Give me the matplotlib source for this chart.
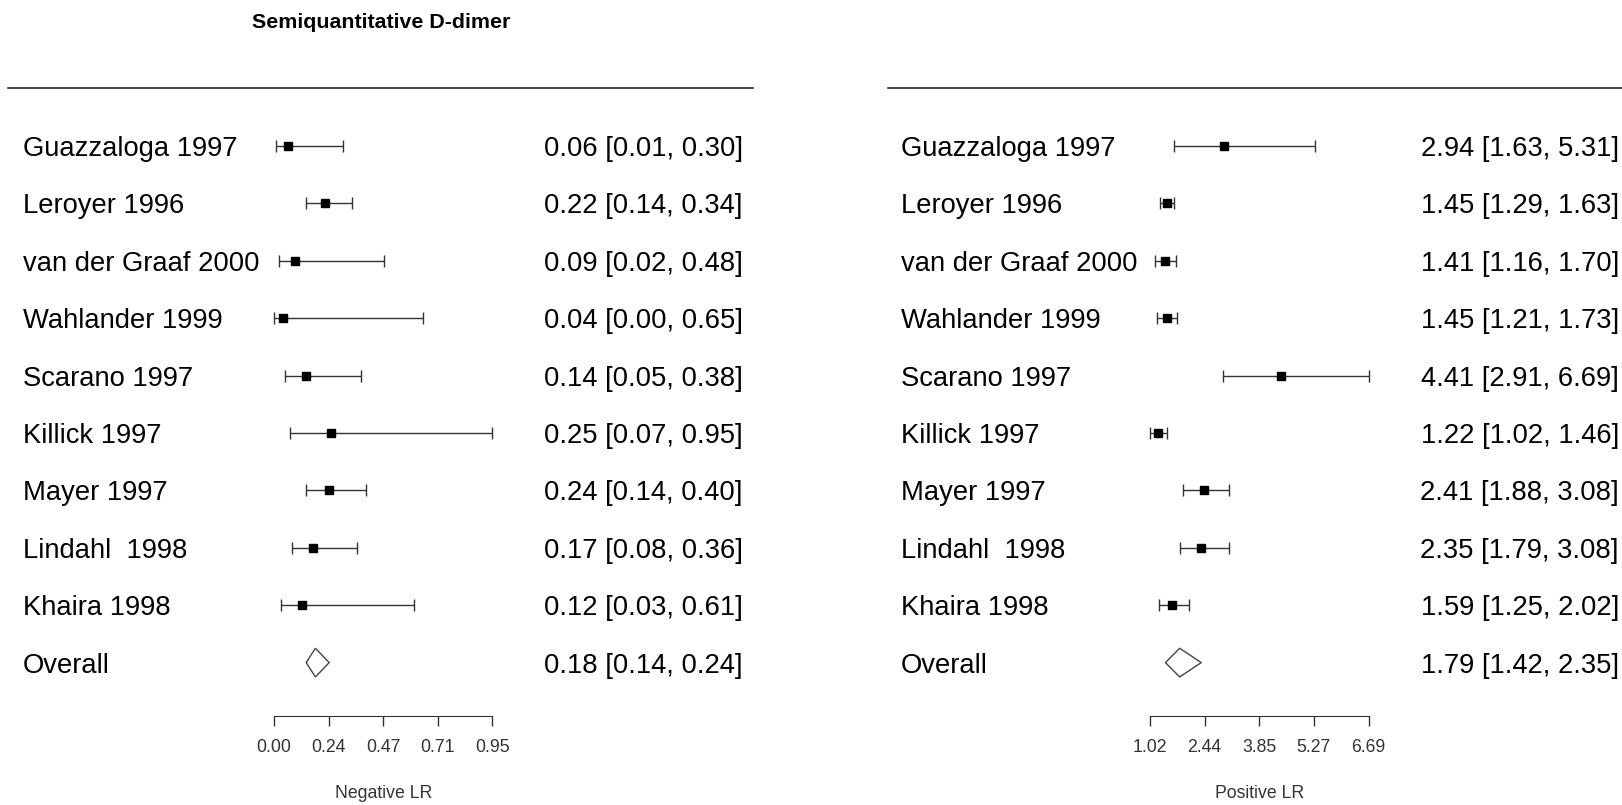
import matplotlib
matplotlib.use("Agg")
import matplotlib.pyplot as plt
from matplotlib.lines import Line2D
from matplotlib.transforms import blended_transform_factory

plt.rcParams['font.family'] = ['Liberation Sans', 'DejaVu Sans']

studies = ["Guazzaloga 1997", "Leroyer 1996", "van der Graaf 2000", "Wahlander 1999",
           "Scarano 1997", "Killick 1997", "Mayer 1997", "Lindahl  1998", "Khaira 1998"]

neg_est = [0.06, 0.22, 0.09, 0.04, 0.14, 0.25, 0.24, 0.17, 0.12]
neg_lo = [0.01, 0.14, 0.02, 0.00, 0.05, 0.07, 0.14, 0.08, 0.03]
neg_hi = [0.30, 0.34, 0.48, 0.65, 0.38, 0.95, 0.40, 0.36, 0.61]
neg_overall = [0.18, 0.14, 0.24]
neg_ticks = [0.00, 0.2375, 0.475, 0.7125, 0.95]
neg_ticklabels = ["0.00", "0.24", "0.47", "0.71", "0.95"]

pos_est = [2.94, 1.45, 1.41, 1.45, 4.41, 1.22, 2.41, 2.35, 1.59]
pos_lo = [1.63, 1.29, 1.16, 1.21, 2.91, 1.02, 1.88, 1.79, 1.25]
pos_hi = [5.31, 1.63, 1.70, 1.73, 6.69, 1.46, 3.08, 3.08, 2.02]
pos_overall = [1.79, 1.42, 2.35]
pos_ticks = [1.02, 2.4375, 3.855, 5.2725, 6.69]
pos_ticklabels = ["1.02", "2.44", "3.85", "5.27", "6.69"]

W, H = 1622, 805
fig = plt.figure(figsize=(W / 100, H / 100), dpi=100)


def fx(px):
    return px / W


def fy(py):
    return 1 - py / H


ROW0, STEP = 146, 57.4
Y_TOP, Y_BOT = 88, 716
FS = 19.7


def forest(x0, x1, est, lo, hi, overall, ticks, ticklabels, xlabel,
           name_x, val_x, rule_x0, rule_x1):
    ax = fig.add_axes([fx(x0), fy(Y_BOT), fx(x1 - x0), (Y_BOT - Y_TOP) / H])
    ax.set_xlim(ticks[0], ticks[-1])
    ax.set_ylim((Y_BOT - ROW0) / STEP, (Y_TOP - ROW0) / STEP)
    rows = list(range(len(est)))
    xerr = [[e - l for e, l in zip(est, lo)], [h - e for e, h in zip(est, hi)]]
    ax.errorbar(est, rows, xerr=xerr, fmt='s', color='black', ms=5.8,
                ecolor='#333333', elinewidth=1, capsize=4.2, capthick=1,
                clip_on=False)
    # overall diamond
    yo = len(est)
    e, l, h = overall
    d = 0.25
    ax.fill([l, e, h, e, l], [yo, yo - d, yo, yo + d, yo], facecolor='white',
            edgecolor='#444444', lw=1, clip_on=False)

    for s in ['top', 'left', 'right']:
        ax.spines[s].set_visible(False)
    ax.spines['bottom'].set_color('#333333')
    ax.set_yticks([])
    ax.set_xticks(ticks)
    ax.set_xticklabels(ticklabels)
    ax.tick_params(axis='x', direction='out', length=7.2, width=1,
                   color='#333333', labelsize=12.7, labelcolor='#333333', pad=9)
    ax.patch.set_visible(False)

    tr = blended_transform_factory(fig.transFigure, ax.transData)
    names = studies + ["Overall"]
    vals = list(zip(est, lo, hi)) + [tuple(overall)]
    for i, (n, v) in enumerate(zip(names, vals)):
        ax.text(fx(name_x), i, n, transform=tr, fontsize=FS,
                ha='left', va='center_baseline')
        ax.text(fx(val_x), i, f"{v[0]:.2f} [{v[1]:.2f}, {v[2]:.2f}]",
                transform=tr, fontsize=FS, ha='right', va='center_baseline')

    fig.add_artist(Line2D([fx(rule_x0), fx(rule_x1)], [fy(Y_TOP), fy(Y_TOP)],
                          color='#222222', lw=1.2))
    fig.text(fx((x0 + x1) / 2), fy(793), xlabel, fontsize=12.7,
             color='#333333', ha='center', va='center')
    return ax


forest(274, 492.4, neg_est, neg_lo, neg_hi, neg_overall, neg_ticks,
       neg_ticklabels, "Negative LR", 23, 743, 8, 753)
forest(1150, 1368.5, pos_est, pos_lo, pos_hi, pos_overall, pos_ticks,
       pos_ticklabels, "Positive LR", 901, 1619, 888, 1622)

fig.text(fx(381.5), fy(22.5), "Semiquantitative D-dimer", fontsize=15.4,
         fontweight='bold', ha='center', va='center')

fig.savefig("out.png", dpi=100)
